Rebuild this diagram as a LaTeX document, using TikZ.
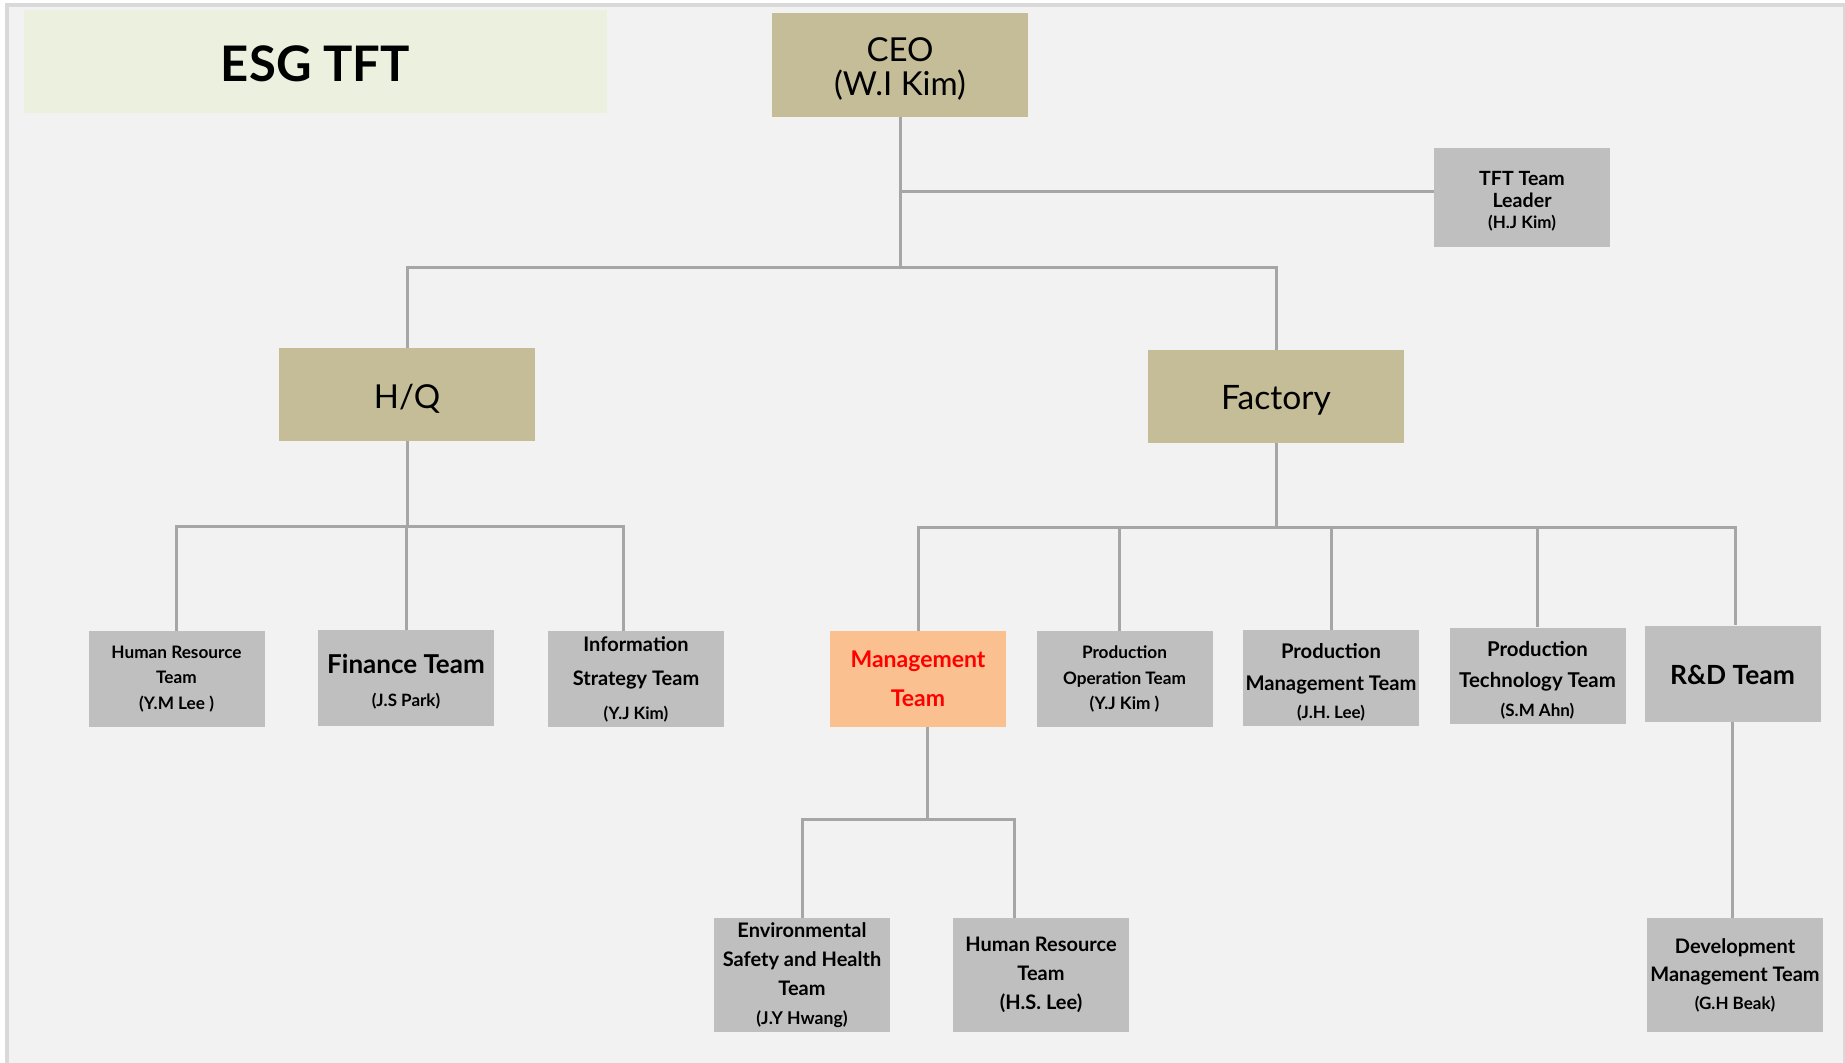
\documentclass[tikz,border=0pt]{standalone}
\usepackage{fontspec}
\setmainfont{Lato}
\definecolor{cBg}{HTML}{F2F2F2}
\definecolor{cBorder}{HTML}{D9D9D9}
\definecolor{cEsg}{HTML}{EBF1DE}
\definecolor{cTan}{HTML}{C4BD97}
\definecolor{cGray}{HTML}{BFBFBF}
\definecolor{cOrange}{HTML}{FAC090}
\definecolor{cLine}{HTML}{A6A6A6}
\newcommand\setfs[2]{\fontsize{#1}{#2}\selectfont}
\newcommand\tpad[1]{\rule{0pt}{#1}}
\begin{document}
\begin{tikzpicture}[x=0.5pt,y=-0.5pt,
  conn/.style={draw=cLine,line width=1.5pt},
  boxbase/.style={inner sep=0pt,align=center,text=black},
  tanbox/.style={boxbase,fill=cTan,minimum width=128pt,minimum height=46.5pt},
  graybox/.style={boxbase,fill=cGray,minimum width=88pt,minimum height=48pt},
  tallbox/.style={graybox,minimum height=57pt}]
\useasboundingbox (0,0) rectangle (1845,1063);
\fill[white] (0,0) rectangle (1845,1063);
\fill[cBg] (7,5) rectangle (1845,1063);
\draw[cBorder,line width=2pt] (7,1063) -- (7,5) -- (1845,5);
\draw[cBorder,line width=1pt] (1844,5) -- (1844,1063);

% title
\node[boxbase,fill=cEsg,minimum width=291.5pt,minimum height=51.5pt,font=\bfseries\setfs{24.5}{28}] (esg) at (315.5,62) {\tpad{19.5pt}ESG TFT};

% top level
\node[tanbox,minimum height=52pt,font=\setfs{16.5}{17}] (ceo) at (900,65) {\tpad{15.5pt}CEO\\(W.I Kim)};
\node[graybox,minimum height=49.5pt,font=\bfseries\setfs{9.8}{10.2}] (tft) at (1522,197.5) {\tpad{10.6pt}TFT Team\\[1pt]Leader\\{\setfs{8.5}{10.2}(H.J Kim)}};
\node[tanbox,font=\setfs{16.5}{18}] (hq) at (407,394.5) {\tpad{16pt}H/Q};
\node[tanbox,font=\setfs{16.8}{18}] (factory) at (1276,396.5) {\tpad{15.8pt}Factory};

% HQ teams
\node[graybox,font=\bfseries\setfs{8.6}{12.6}] (hr1) at (176.5,679) {Human Resource\\Team\\(Y.M Lee )};
\node[graybox,font=\bfseries\setfs{13}{16.5}] (fin) at (406,678) {\tpad{13.5pt}Finance Team\\{\setfs{8.5}{16.5}(J.S Park)}};
\node[graybox,font=\bfseries\setfs{10}{17}] (info) at (636,679) {Information\\Strategy Team\\{\setfs{8.5}{16.5}(Y.J Kim)}};

% Factory teams
\node[graybox,fill=cOrange,text=red,font=\bfseries\setfs{11.5}{19.3}] (mgmt) at (918,679) {Management\\Team};
\node[graybox,font=\bfseries\setfs{8.6}{12.8}] (prodop) at (1124.5,679) {Production\\Operation Team\\(Y.J Kim )};
\node[graybox,font=\bfseries\setfs{10.1}{14.3}] (prodmg) at (1331,678) {\tpad{12pt}Production\\[1.5pt]Management Team\\{\setfs{8.5}{14.3}(J.H. Lee)}};
\node[graybox,font=\bfseries\setfs{10.2}{14.3}] (prodtech) at (1537.5,675.5) {\tpad{12pt}Production\\[1.5pt]Technology Team\\{\setfs{8.5}{14.3}(S.M Ahn)}};
\node[graybox,font=\bfseries\setfs{13.2}{15}] (rnd) at (1732.5,673.5) {\tpad{11.5pt}R\&D Team};

% lower level
\node[tallbox,font=\bfseries\setfs{10}{14.5}] (env) at (802,975) {Environmental\\Safety and Health\\Team\\{\setfs{8.8}{14}(J.Y Hwang)}};
\node[tallbox,font=\bfseries\setfs{10}{14.5}] (hr2) at (1041,975) {Human Resource\\Team\\(H.S. Lee)};
\node[tallbox,font=\bfseries\setfs{10}{14}] (dev) at (1735,975) {Development\\Management Team\\{\setfs{8.5}{14}(G.H Beak)}};

% connectors
\coordinate (bar1) at (900,268);
\coordinate (tftin) at ([yshift=2.75pt]tft.west);
\draw[conn] (ceo.south) -- (ceo.south |- bar1);
\draw[conn] (ceo.south |- tftin) -- (tftin);
\draw[conn] (hq.north) -- (hq.north |- bar1) -- (factory.north |- bar1) -- (factory.north);

\coordinate (bar2) at (407,526);
\coordinate (infoin) at ([xshift=-6.5pt]info.north);
\draw[conn] (hq.south) -- (hq.south |- bar2);
\draw[conn] (hr1.north) -- (hr1.north |- bar2) -- (infoin |- bar2) -- (infoin);
\draw[conn] (fin.north) -- (fin.north |- bar2);

\coordinate (bar3) at (1276,527);
\coordinate (rndin) at ([xshift=1.5pt]rnd.north);
\coordinate (prodopin) at ([xshift=-2.75pt]prodop.north);
\draw[conn] (factory.south) -- (factory.south |- bar3);
\draw[conn] (mgmt.north) -- (mgmt.north |- bar3) -- (rndin |- bar3) -- (rndin);
\draw[conn] (prodopin) -- (prodopin |- bar3);
\draw[conn] (prodmg.north) -- (prodmg.north |- bar3);
\draw[conn] (prodtech.north) -- (prodtech.north |- bar3);

\coordinate (bar4) at (918,819);
\coordinate (mgmtout) at ([xshift=4.5pt]mgmt.south);
\coordinate (hr2in) at ([xshift=-13.5pt]hr2.north);
\draw[conn] (mgmtout) -- (mgmtout |- bar4);
\draw[conn] (env.north) -- (env.north |- bar4) -- (hr2in |- bar4) -- (hr2in);
\draw[conn] (rnd.south) -- (rnd.south |- dev.north);
\end{tikzpicture}
\end{document}
